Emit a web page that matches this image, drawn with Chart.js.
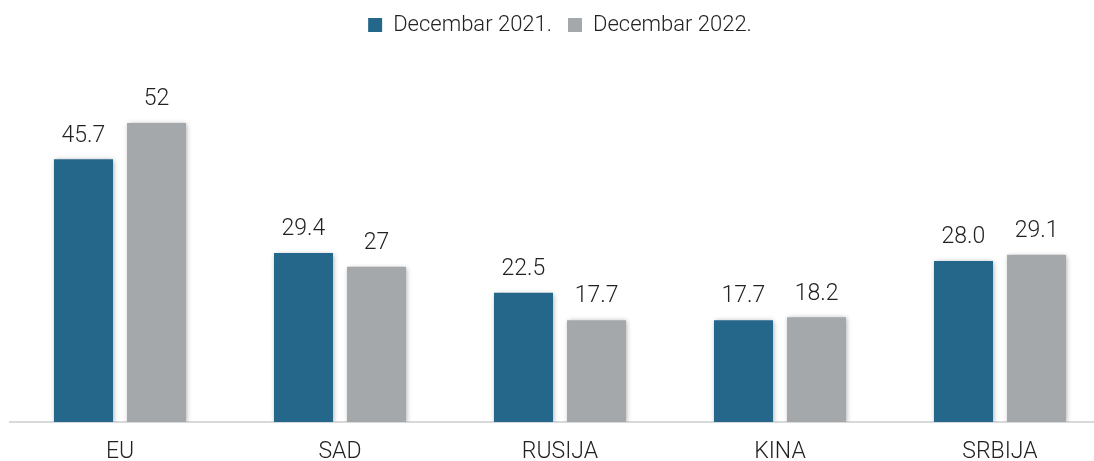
<!DOCTYPE html>
<html>
<head>
<meta charset="utf-8">
<script src="https://cdn.jsdelivr.net/npm/chart.js"></script>
<style>
  html, body { margin: 0; padding: 0; background: #fff; overflow: hidden; }
  #wrap { width: 1130px; height: 461px; }
</style>
</head>
<body>
<div id="wrap"><canvas id="myChart"></canvas></div>
<script>
const categories = ['EU', 'SAD', 'RUSIJA', 'KINA', 'SRBIJA'];
const values2021 = [45.7, 29.4, 22.5, 17.7, 28.0];
const values2022 = [52, 27, 17.7, 18.2, 29.1];
const labels2021 = ['45.7', '29.4', '22.5', '17.7', '28.0'];
const labels2022 = ['52', '27', '17.7', '18.2', '29.1'];
const seriesNames = ['Decembar 2021.', 'Decembar 2022.'];

const FONT = 'Roboto, "Liberation Sans Narrow", sans-serif';

// sjenka ispod stubova
const shadowPlugin = {
  id: 'barShadow',
  beforeDatasetsDraw(chart) {
    const c = chart.ctx;
    c.save();
    c.shadowColor = 'rgba(0,0,0,0.35)';
    c.shadowBlur = 5;
    c.shadowOffsetX = 1;
    c.shadowOffsetY = 1;
  },
  afterDatasetsDraw(chart) {
    chart.ctx.restore();
  }
};

// brojevi iznad stubova
const valueLabels = {
  id: 'valueLabels',
  afterDatasetsDraw(chart) {
    const c = chart.ctx;
    const texts = [labels2021, labels2022];
    c.save();
    c.font = '300 23px ' + FONT;
    c.fillStyle = '#222';
    c.textAlign = 'center';
    c.textBaseline = 'bottom';
    chart.data.datasets.forEach((ds, i) => {
      chart.getDatasetMeta(i).data.forEach((bar, j) => {
        c.fillText(texts[i][j], bar.x, bar.y - 12);
      });
    });
    c.restore();
  }
};

const ctx1 = document.getElementById('myChart').getContext('2d');
const myChart = new Chart(ctx1, {
  type: 'bar',
  data: {
    labels: categories,
    datasets: [{
      label: seriesNames[0],
      data: values2021,
      backgroundColor: '#24678b'
    },
    {
      label: seriesNames[1],
      data: values2022,
      backgroundColor: '#a4a8ab'
    }]
  },
  options: {
    responsive: true,
    maintainAspectRatio: false,
    animation: false,
    categoryPercentage: 0.664,
    barPercentage: 0.808,
    layout: { padding: { left: 10, right: 20, top: -2, bottom: -22 } },
    plugins: {
      legend: {
        position: 'top',
        labels: {
          boxWidth: 14,
          boxHeight: 14,
          padding: 16,
          color: '#222',
          font: { family: FONT, size: 22, weight: '300' }
        }
      },
      tooltip: { enabled: false }
    },
    scales: {
      x: {
        grid: { display: false, drawTicks: false },
        border: { display: true, color: '#d9d9d9', width: 2 },
        ticks: {
          color: '#222',
          padding: 19,
          font: { family: FONT, size: 23, weight: '300', lineHeight: 1 }
        }
      },
      y: {
        display: false,
        beginAtZero: true,
        max: 65.4
      }
    }
  },
  plugins: [shadowPlugin, valueLabels]
});
</script>
</body>
</html>
